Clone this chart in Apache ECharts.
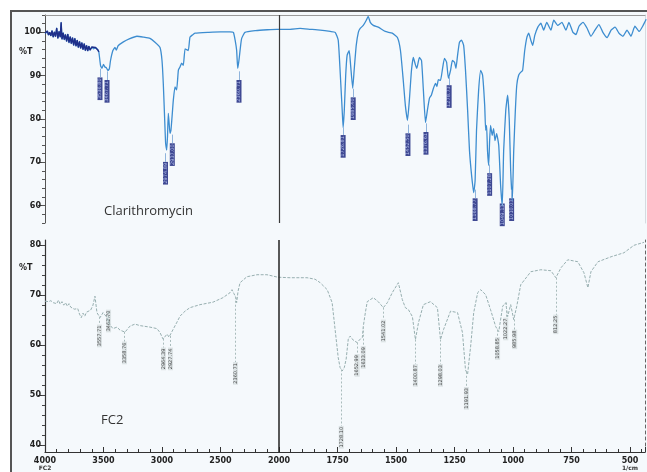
<!DOCTYPE html>
<html><head><meta charset="utf-8">
<script src="https://cdn.jsdelivr.net/npm/echarts@6/dist/echarts.min.js"></script>
<style>html,body{margin:0;padding:0;background:#fff}#c{width:647px;height:472px}</style>
</head><body><div id="c"></div>
<script>
// ---- data ----
const xTickLabels = [4000,3500,3000,2500,2000,1750,1500,1250,1000,750,500];
const topYTicks = [60,70,80,90,100];
const botYTicks = [40,50,60,70,80];

// Clarithromycin spectrum (wavenumber, %T)
const topWn = [4000,3990,3980,3970,3960,3950,3940,3930,3920,3910,3900,3890,3880,3870,3862,3855,3845,3835,3825,3815,3805,3795,3785,3775,3765,3755,3745,3735,3725,3715,3705,3695,3685,3675,3665,3655,3645,3635,3625,3615,3600,3585,3570,3550,
 3540,3525,3513,3500,3488,3475,3462,3450,3440,3420,3402,3390,3375,3330,3280,3214,3160,3103,3060,3017,3000,2989,2978,2969,2960,2953,2946,2939,2932,2924,2917,2910,2903,2889,2875,2860,2846,2832,2818,2803,2789,2775,2761,2740,2718,2600,2500,2420,2390,2375,2362,2353,2345,2339,2328,2319,2291,2200,2100,2020,2000,
 1953,1910,1867,1824,1781,1760,1747,1739,1730,1726,1721,1715,1709,1700,1694,1685,1679,1670,1661,1653,1640,1627,1619,1610,1597,1576,1546,1516,1494,1481,1469,1460,1451,1443,1434,1426,1417,1411,1400,1391,1383,1374,1366,1357,1349,1340,1331,1325,1319,1310,1301,1293,1284,1276,1267,1259,1250,1244,1237,1229,1220,1211,1203,1194,1186,1177,1168,1162,1156,1147,1138,1130,1121,1117,1113,1109,1104,1100,1096,1089,1083,1077,1070,1061,1053,1046,1040,1031,1023,1016,1010,1003,997,990,984,976,967,959,950,941,933,924,916,907,894,881,869,856,838,826,808,791,774,761,744,731,718,701,684,667,650,633,616,598,581,564,547,530,513,496,479,461,444,431];
const topT = [99.8,99.9,100.3,99.4,100.0,99.2,100.4,98.9,100.1,99.0,101.0,98.6,100.2,98.9,102.3,98.4,99.9,98.3,99.5,97.9,99.6,97.6,99.0,97.4,98.8,97.0,98.6,96.8,98.2,96.5,97.9,96.3,97.6,96.0,97.4,95.8,97.0,95.7,96.8,95.9,96.6,96.2,96.5,96.0,
 95.5,92.3,91.7,92.6,92.0,91.8,91.2,91.6,93.5,95.8,96.5,95.9,96.9,97.8,98.5,99.1,98.9,98.6,97.7,96.5,93.5,88.2,80.5,74.4,72.8,76.0,81.3,79.0,76.7,77.3,79.5,82.0,84.4,87.4,86.7,91.3,92.0,92.9,92.4,96.2,96.0,95.8,98.9,99.4,99.8,100.0,100.1,100.1,100.0,98.2,95.8,91.7,93.0,94.3,97.0,98.6,100.0,100.4,100.6,100.7,100.7,
 100.7,100.9,100.7,100.5,100.2,100.0,98.2,91.2,82.0,78.0,82.0,90.1,94.7,95.8,92.4,87.1,91.2,97.0,100.0,100.9,101.6,102.8,103.7,102.3,101.6,101.2,100.2,99.8,98.8,95.8,88.9,83.1,79.7,84.3,91.2,94.2,92.5,91.7,94.2,93.5,86.6,79.2,82.0,84.8,85.5,87.1,88.2,87.5,89.1,88.9,91.7,94.0,93.1,89.4,91.2,93.5,93.1,91.7,94.7,97.7,98.2,97.0,91.2,82.0,72.7,67.0,63.0,65.8,77.4,86.6,91.2,90.1,83.1,77.4,78.5,72.7,69.3,75.0,78.5,76.2,77.8,75.0,76.6,73.9,64.7,60.0,72.7,82.0,85.5,79.7,68.1,61.2,72.7,82.0,87.8,90.1,90.8,91.2,95.8,98.8,99.8,98.2,97.0,99.3,101.2,102.1,100.5,102.3,100.5,102.8,101.6,102.3,100.5,102.3,100.0,99.5,101.4,102.3,101.0,99.1,100.5,101.8,100.0,98.8,100.5,101.2,99.8,99.1,100.5,99.1,101.4,100.2,101.6,103.0];

// FC2 spectrum (wavenumber, %T)
const botWn = [4000,3970,3950,3930,3915,3900,3885,3870,3855,3840,3825,3810,3795,3780,3765,3750,3735,3720,3705,3690,3675,3660,3645,3630,3610,3590,3573,3556,3530,3504,3479,3444,3419,3385,3359,3316,3274,3231,3188,3103,3043,3017,2991,2974,2957,2940,2923,2906,2872,2846,2803,2761,2675,2564,2479,2419,2402,2385,2368,2362,2350,2333,2274,2188,2103,2009,
 1953,1880,1846,1824,1794,1773,1760,1747,1739,1730,1721,1713,1704,1696,1683,1666,1653,1644,1640,1631,1623,1597,1576,1554,1537,1516,1490,1473,1460,1447,1430,1417,1404,1383,1353,1323,1310,1297,1267,1237,1216,1203,1194,1181,1168,1151,1138,1117,1096,1074,1061,1044,1031,1023,1010,997,984,967,924,881,838,817,795,766,723,697,680,667,637,581,526,483,440];
const botT = [68.8,68.7,68.9,68.5,68.8,68.3,69.0,68.2,68.7,68.0,68.5,67.8,68.3,67.6,67.9,67.2,66.9,67.3,66.2,65.5,66.4,65.8,66.6,66.2,67.0,68.0,69.8,66.5,65.5,66.5,65.8,64.0,63.3,63.6,63.0,62.6,63.8,64.2,63.9,63.6,63.3,62.5,61.2,61.6,62.2,61.6,61.9,63.1,64.6,65.8,66.8,67.5,68.1,68.6,69.5,70.5,71.1,70.3,69.5,68.5,70.8,72.5,73.7,74.1,74.1,73.6,
 73.5,73.5,73.2,72.5,71.1,68.5,63.0,57.5,55.5,54.8,55.5,57.2,61.2,61.8,61.0,60.5,61.2,61.5,63.7,66.5,68.7,69.5,68.7,67.5,68.5,70.5,72.5,69.1,67.5,67.1,65.7,61.1,64.5,68.1,68.7,67.5,61.1,63.1,66.8,66.5,62.5,55.0,54.2,59.8,66.5,70.5,71.1,70.1,67.1,63.7,62.7,67.8,68.5,65.7,68.1,65.1,67.8,72.1,74.7,75.1,74.9,73.5,75.5,77.1,76.7,74.5,71.5,74.7,76.7,77.7,78.5,80.0,80.6];

// peak annotations
const topPeakWn = [3530,3470,2970,2912,2342,1726,1683,1449,1372,1273,1162,1100,1046,1006];
const topPeakT  = [89.6,89.0,70.1,74.4,89.0,76.3,85.0,76.7,77.0,87.8,61.7,67.5,60.5,61.7];
const topPeakText = ['3536.80','3467.71','2974.89','2937.00','2360.71','1726.81','1685.40','1452.50','1376.61','1278.73','1168.77','1107.28','1049.13','1010.03'];
const botPeakWn = [3534,3457,3321,2987,2927,2372,1734,1666,1640,1554,1417,1310,1199,1066,1031,993,817];
const botPeakT  = [64.1,67.1,60.7,59.5,59.5,56.6,43.8,58.2,59.8,65.1,56.2,56.2,51.6,61.6,65.5,63.1,66.1];
const botPeakText = ['3557.71','3462.70','3358.76','2964.39','2927.74','2360.71','1728.10','1652.99','1633.09','1541.02','1400.87','1298.03','1191.93','1058.85','1022.27','985.98','812.25'];

// ---- helpers: split-scale wavenumber axis (2x below 2000) ----
function tx(wn){ return wn >= 2000 ? 4000 - wn : 2000 + (2000 - wn) * 2; }
function inv(v){ return v <= 2000 ? 4000 - v : 2000 - (v - 2000) / 2; }
function range(a,b,s){ const r=[]; for(let v=a; v<=b+1e-9; v+=s) r.push(v); return r; }
// value of a spectrum at wavenumber w (linear between read points), for leader lines
function valAt(wns, ts, w){
  for (let i = 0; i < wns.length - 1; i++) {
    const a = wns[i], b = wns[i+1];
    if ((w <= a && w >= b)) { const f = (a - w) / (a - b); return ts[i] + f * (ts[i+1] - ts[i]); }
  }
  return ts[ts.length - 1];
}

const topData = topWn.map((w,i)=>[tx(w), topT[i]]);
const noiseData = topWn.map((w,i)=>[tx(w), topT[i]]).filter((d,i)=>topWn[i] >= 3540);
const botData = botWn.map((w,i)=>[tx(w), botT[i]]);
const topPk = topPeakWn.map((w,i)=>[tx(w), topPeakT[i], topPeakText[i]]);
const botPk = botPeakWn.map((w,i)=>[tx(w), botPeakT[i], botPeakText[i]]);
const botLeaders = botPeakWn.map((w,i)=>[{coord: [tx(w), valAt(botWn, botT, w)]}, {coord: [tx(w), botPeakT[i]]}]);
const topLeaders = topPeakWn.map((w,i)=>[{coord: [tx(w), Math.min(valAt(topWn, topT, w), topPeakT[i] + 2)]}, {coord: [tx(w), topPeakT[i]]}]);

const FONT = 'DejaVu Sans';
const XMAX = 5128;
const TOPMIN = 56, TOPMAX = 104, BOTMIN = 38.57, BOTMAX = 81.06;

const lblStyle = {fontFamily: FONT, fontSize: 8, fontWeight: 'bold', color: '#222'};

const chart = echarts.init(document.getElementById('c'), null, {renderer: 'canvas'});
chart.setOption({
  backgroundColor: '#fff',
  animation: false,
  grid: [
    {left: 45, top: 15, width: 600, height: 208},
    {left: 45, top: 240, width: 600, height: 213}
  ],
  xAxis: [
    {gridIndex: 0, type: 'value', min: 0, max: XMAX, position: 'bottom',
     axisLine: {show: false}, axisTick: {show: false}, axisLabel: {show: false}, splitLine: {show: false}},
    {gridIndex: 0, type: 'value', min: 0, max: XMAX, position: 'top',
     axisLine: {show: true, lineStyle: {color: '#9a9a9a', width: 1}}, axisTick: {show: false}, axisLabel: {show: false}, splitLine: {show: false}},
    {gridIndex: 1, type: 'value', min: 0, max: XMAX, interval: 500, position: 'bottom',
     axisLine: {show: true, lineStyle: {color: '#333', width: 1.2}},
     axisTick: {show: true, inside: true, length: 5, lineStyle: {color: '#333'}},
     minorTick: {show: true, splitNumber: 5, length: 3, lineStyle: {color: '#333'}},
     axisLabel: Object.assign({margin: 4, showMaxLabel: false, lineHeight: 9,
       formatter: v => { const w = Math.round(inv(v)); if (w === 4000) return '4000\n{s|FC2}'; if (w === 500) return '500\n{s|1/cm}'; return String(w); },
       rich: {s: {fontFamily: FONT, fontSize: 6, fontWeight: 'bold', color: '#333', lineHeight: 7}}}, lblStyle),
     splitLine: {show: false}}
  ],
  yAxis: [
    {gridIndex: 0, type: 'value', min: TOPMIN, max: TOPMAX, position: 'left',
     axisLine: {show: true, lineStyle: {color: '#555', width: 1}},
     axisTick: {show: true, customValues: topYTicks, length: 7, lineStyle: {color: '#444'}},
     axisLabel: Object.assign({customValues: topYTicks, margin: 4}, lblStyle),
     splitLine: {show: false}},
    {gridIndex: 0, type: 'value', min: TOPMIN, max: TOPMAX, position: 'left',
     axisLine: {show: false},
     axisTick: {show: true, customValues: range(56,104,2), length: 3, lineStyle: {color: '#555'}},
     axisLabel: {show: false}, splitLine: {show: false}},
    {gridIndex: 0, type: 'value', min: TOPMIN, max: TOPMAX, position: 'right',
     axisLine: {show: true, lineStyle: {color: '#d5dbe0'}}, axisTick: {show: false}, axisLabel: {show: false}, splitLine: {show: false}},
    {gridIndex: 1, type: 'value', min: BOTMIN, max: BOTMAX, position: 'left',
     axisLine: {show: true, lineStyle: {color: '#333', width: 1.2}},
     axisTick: {show: true, customValues: botYTicks, length: 7, lineStyle: {color: '#333'}},
     axisLabel: Object.assign({customValues: botYTicks, margin: 4}, lblStyle),
     splitLine: {show: false}},
    {gridIndex: 1, type: 'value', min: BOTMIN, max: BOTMAX, position: 'left',
     axisLine: {show: false},
     axisTick: {show: true, customValues: range(40,80,2), length: 3, lineStyle: {color: '#444'}},
     axisLabel: {show: false},
     splitLine: {show: false}},
    {gridIndex: 1, type: 'value', min: BOTMIN, max: BOTMAX, position: 'right',
     axisLine: {show: true, lineStyle: {color: '#666', type: [3,3]}}, axisTick: {show: false}, axisLabel: {show: false}, splitLine: {show: false}}
  ],
  series: [
    {type: 'line', xAxisIndex: 0, yAxisIndex: 0, data: topData, showSymbol: false, smooth: 0.15,
     lineStyle: {color: '#3d8dd0', width: 1.3},
     markLine: {silent: true, symbol: 'none', label: {show: false}, lineStyle: {color: '#3a3a3a', width: 1.2, type: 'solid'}, data: [{xAxis: 2000}]}},
    {type: 'line', xAxisIndex: 0, yAxisIndex: 0, data: noiseData, showSymbol: false,
     lineStyle: {color: '#1f2f8a', width: 1.4}},
    {type: 'scatter', xAxisIndex: 0, yAxisIndex: 0, data: topPk, symbolSize: 1, itemStyle: {color: 'rgba(0,0,0,0)'},
     labelLayout: {hideOverlap: false},
     markLine: {silent: true, symbol: 'none', label: {show: false}, lineStyle: {color: '#8fb4dc', width: 1, type: 'solid'}, data: topLeaders},
     label: {show: true, formatter: p => p.data[2], position: 'inside', rotate: 90, align: 'right', verticalAlign: 'middle',
       fontFamily: FONT, fontSize: 5, color: '#cfdcff', backgroundColor: '#121d78', padding: [0, 1]}},
    {type: 'line', xAxisIndex: 2, yAxisIndex: 3, data: botData, showSymbol: false,
     lineStyle: {color: '#97afb0', width: 1, type: [3, 1.5]},
     markLine: {silent: true, symbol: 'none', label: {show: false}, lineStyle: {color: '#222', width: 1.5, type: 'solid'}, data: [{xAxis: 2000}]}},
    {type: 'scatter', xAxisIndex: 2, yAxisIndex: 3, data: botPk, symbolSize: 1, itemStyle: {color: 'rgba(0,0,0,0)'},
     labelLayout: {hideOverlap: false},
     markLine: {silent: true, symbol: 'none', label: {show: false}, lineStyle: {color: '#a9bcbc', width: 1, type: [2, 2]}, data: botLeaders},
     label: {show: true, formatter: p => p.data[2], position: 'inside', rotate: 90, align: 'right', verticalAlign: 'middle',
       fontFamily: FONT, fontSize: 5, color: '#1a1a1a', backgroundColor: 'rgba(200,210,210,0.7)', padding: [0, 1]}}
  ],
  graphic: [
    {type: 'rect', z: -10, shape: {x: 11, y: 11, width: 636, height: 461}, style: {fill: '#f5f9fc'}},
    {type: 'polyline', z: 10, shape: {points: [[647, 11], [11, 11], [11, 472]]}, style: {stroke: '#555', lineWidth: 2, fill: null}},
    {type: 'text', left: 19, top: 48, style: {text: '%T', font: 'bold 8px "DejaVu Sans"', fill: '#222'}},
    {type: 'text', left: 19, top: 264, style: {text: '%T', font: 'bold 8px "DejaVu Sans"', fill: '#222'}},
    {type: 'text', left: 104, top: 205, style: {text: 'Clarithromycin', font: '13px "Open Sans"', fill: '#333'}},
    {type: 'text', left: 101, top: 414, style: {text: 'FC2', font: '13px "Open Sans"', fill: '#333'}}
  ]
});
</script>
</body></html>
